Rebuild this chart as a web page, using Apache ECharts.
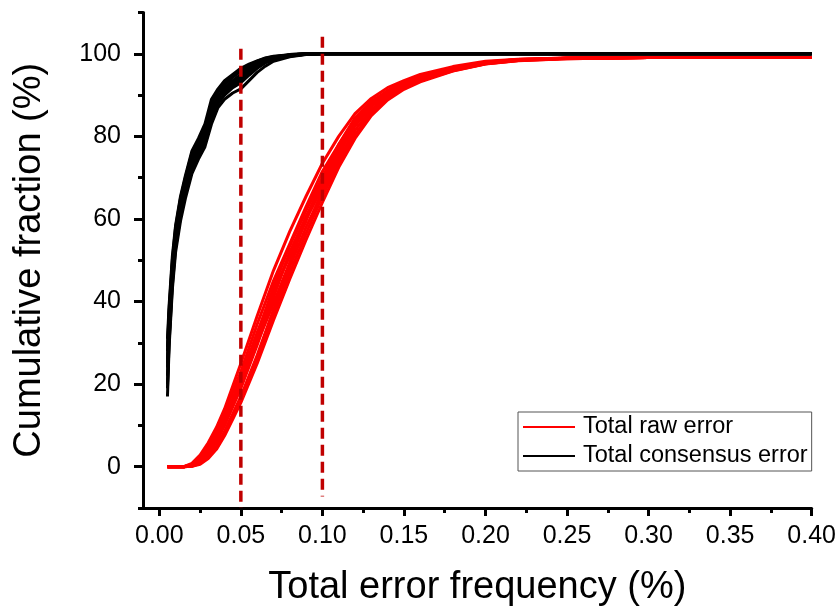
<!DOCTYPE html>
<html>
<head>
<meta charset="utf-8">
<script src="https://cdn.jsdelivr.net/npm/echarts@6/dist/echarts.min.js"></script>
<style>html,body{margin:0;padding:0;background:#fff}#chart{width:839px;height:612px}</style>
</head>
<body>
<div id="chart"></div>
<script>
// ---- tick values ----
const xMajorTicks = [0, 0.05, 0.10, 0.15, 0.20, 0.25, 0.30, 0.35, 0.40];
const xMinorTicks = [0.025, 0.075, 0.125, 0.175, 0.225, 0.275, 0.325, 0.375];
const yMajorTicks = [0, 20, 40, 60, 80, 100];
const yMinorTicks = [-10, 10, 30, 50, 70, 90, 110];

// ---- Total raw error (red) replicates ----
const rawX = [0.005,0.015,0.02,0.025,0.03,0.035,0.04,0.045,0.05,0.06,0.07,0.08,0.09,0.1,0.11,0.12,0.13,0.14,0.15,0.16,0.18,0.2,0.22,0.25,0.3,0.4];
const raw1 = [0,0,0.8,2.8,5.8,9.5,14,19.5,25,36.5,47.5,57,65.5,73.5,80,85.5,89.2,91.8,93.5,95,96.9,98.2,98.7,99,99.1,99.1];
const raw2 = [0,0,0.1,0.6,2,4.2,7.5,11.5,15.5,25,35.5,45.5,55,64,72.5,79.5,85,88.8,91.4,93.2,95.8,97.5,98.3,98.8,99.1,99.1];
const raw3 = [0,0,0.2,1.2,3,6,10,14.5,19,29.5,41,52,60.5,68,76,82.5,87.2,90.3,92.4,94,96.2,97.7,98.5,98.9,99.1,99.1];
const raw4 = [0,0,0.5,2,4.4,7.6,11.8,16.5,21.5,32.5,42.5,51,59.5,70,78,84.5,88.5,91,93,94.4,96.5,97.9,98.6,98.9,99.1,99.1];
const raw5 = [0,0,0.2,0.9,2.5,5,8.6,12.8,17,27,38,48.5,58,66.5,74.5,81.5,86.5,89.8,92,93.7,96,97.6,98.4,98.9,99.1,99.1];
const raw6 = [0,0,0.6,2.4,5,8.6,12.8,18,23,34.5,45,54,63,71.5,78,84,88,91,92.9,94.3,96.5,98,98.6,99,99.1,99.1];
const raw7 = [0,0,0.3,1.4,3.3,6.3,10.2,14.8,19.3,30,39.5,49.5,60,67.5,75.5,83,87.5,90.4,92.5,94,96.3,97.8,98.5,98.9,99.1,99.1];
const raw8 = [0,0,0.4,1.7,4,7,11,15.8,20.5,32,43.5,53.5,62,70,77.5,84,88,91,93,94.5,96.5,97.9,98.6,98.9,99.1,99.1];
const raw9 = [0,0,0.1,0.8,2.3,4.6,8,12.2,16.3,26,37,47,56.5,65.5,73.5,80.5,85.8,89.3,91.7,93.5,95.9,97.6,98.4,98.8,99.1,99.1];
const raw10 = [0,0,0.3,1.5,3.6,6.8,10.8,15.3,20,31,42,51.5,60.5,69,76.5,83,87.8,90.6,92.6,94.1,96.3,97.8,98.5,98.9,99.1,99.1];

// ---- Total consensus error (black) replicates ----
const consX = [0.005,0.006,0.008,0.01,0.013,0.016,0.02,0.024,0.028,0.032,0.036,0.04,0.045,0.05,0.055,0.06,0.065,0.07,0.08,0.09,0.1,0.4];
const cons1 = [17,29,43,52,59.5,65,71,74.5,77.5,83,87,89,90.5,91.5,93.5,95.5,97,98.2,99.3,99.8,100,100];
const cons2 = [22,34,47,55.5,62.5,68,74,77.5,80.5,86.5,89,91.8,93.5,95,96.4,97.6,98.5,99.1,99.7,100,100,100];
const cons3 = [26,36,48.5,56.5,63.5,68.5,74.5,77,80,85.5,90,90.8,92.5,94,95.8,97.2,98.3,99,99.6,99.9,100,100];
const cons4 = [31,39,51,58.5,65.5,70.5,76.5,79.5,83,89,91.5,93.5,95,96.5,97.5,98.3,99,99.4,99.8,100,100,100];
const cons5 = [24,33,45.5,54.5,61.5,66.5,72.5,76,79,84.5,88,90.5,92,93.5,95.2,96.8,98,98.8,99.5,99.9,100,100];
const cons6 = [28,37,49,57,64,69,75,78,81.5,87.5,89.2,92.5,94.3,95.8,96.9,97.9,98.7,99.2,99.7,100,100,100];
const cons7 = [20,31,45,54,61,66.5,72.5,76,79,85.5,89.8,91.2,92.8,94.3,95.9,97.2,98.3,99,99.6,99.9,100,100];
const cons8 = [19,30,44,53,60.5,66,72,75.5,78.5,84,88,90,91.8,93,94.8,96.5,97.8,98.6,99.4,99.9,100,100];
const cons9 = [25,35,47.5,56,63,68,74,77.5,80.5,86,89.5,91.5,93.2,94.8,96.3,97.6,98.5,99.1,99.7,100,100,100];
const cons10 = [29,38,50,58,65,70,76,79,82,88,90.8,92.8,94.5,96,97.2,98.2,98.9,99.3,99.8,100,100,100];

// ---- reference (dashed) lines: x position, top value, bottom value ----
const refX = [0.05, 0.10];
const refTop = [101.2, 104.1];
const refBottom = [-10, -7.2];

const RAW_NAME = 'Total raw error';
const CONS_NAME = 'Total consensus error';
const FONT = "'Liberation Sans', Arial, sans-serif";

function pairs(xs, ys) { return xs.map((x, i) => [x, ys[i]]); }

const series = [];
[raw1, raw2, raw3, raw4, raw5, raw6, raw7, raw8, raw9, raw10].forEach(r => {
  series.push({ type: 'line', name: RAW_NAME, data: pairs(rawX, r), showSymbol: false, symbol: 'none',
    color: '#ff0000', lineStyle: { color: '#ff0000', width: 3 }, z: 2 });
});
[cons1, cons2, cons3, cons4, cons5, cons6, cons7, cons8, cons9, cons10].forEach(r => {
  series.push({ type: 'line', name: CONS_NAME, data: pairs(consX, r), showSymbol: false, symbol: 'none',
    color: '#000000', lineStyle: { color: '#000000', width: 3 }, z: 3 });
});
refX.forEach((x, i) => {
  series.push({ type: 'line', name: 'ref' + i, data: [[x, refTop[i]], [x, refBottom[i]]], showSymbol: false, symbol: 'none',
    silent: true, color: '#c00000', lineStyle: { color: '#c00000', width: 3.5, type: [11, 6] }, z: 4 });
});

function tickAxis(min, max, pos, values, len) {
  return {
    type: 'value', min: min, max: max, position: pos,
    axisLine: { show: false, onZero: false },
    axisTick: { show: true, inside: false, length: len, customValues: values, lineStyle: { color: '#000', width: 3 } },
    axisLabel: { show: false },
    splitLine: { show: false }
  };
}

const option = {
  animation: false,
  backgroundColor: '#fff',
  textStyle: { fontFamily: FONT },
  grid: { left: 143, right: 26, top: 12.5, bottom: 101.5, containLabel: false },
  legend: {
    data: [RAW_NAME, CONS_NAME],
    orient: 'vertical',
    left: 518, top: 412,
    padding: [3, 4, 3, 5],
    itemGap: 5,
    itemWidth: 52, itemHeight: 2,
    icon: 'rect',
    borderColor: '#555', borderWidth: 1,
    textStyle: { fontSize: 23.5, lineHeight: 23, color: '#000', fontFamily: FONT, padding: [0, 0, 0, 3] }
  },
  xAxis: [
    {
      type: 'value', min: -0.01, max: 0.4, position: 'bottom',
      axisLine: { show: true, onZero: false, lineStyle: { color: '#000', width: 3 } },
      axisTick: { show: false },
      axisLabel: { show: true, customValues: xMajorTicks, margin: 16, fontSize: 25, color: '#000', fontFamily: FONT,
        formatter: v => v.toFixed(2) },
      splitLine: { show: false },
      name: 'Total error frequency (%)', nameLocation: 'middle', nameGap: 61,
      nameTextStyle: { fontSize: 38, color: '#000', fontFamily: FONT }
    },
    tickAxis(-0.01, 0.4, 'bottom', xMajorTicks, 8),
    tickAxis(-0.01, 0.4, 'bottom', xMinorTicks, 5)
  ],
  yAxis: [
    {
      type: 'value', min: -10, max: 110, position: 'left',
      axisLine: { show: true, onZero: false, lineStyle: { color: '#000', width: 3 } },
      axisTick: { show: false },
      axisLabel: { show: true, customValues: yMajorTicks, margin: 22, fontSize: 25, color: '#000', fontFamily: FONT },
      splitLine: { show: false },
      name: 'Cumulative fraction (%)', nameLocation: 'middle', nameGap: 94,
      nameTextStyle: { fontSize: 38, color: '#000', fontFamily: FONT }
    },
    tickAxis(-10, 110, 'left', yMajorTicks, 9),
    tickAxis(-10, 110, 'left', yMinorTicks, 5)
  ],
  series: series
};

const chart = echarts.init(document.getElementById('chart'), null, { renderer: 'canvas' });
chart.setOption(option);
</script>
</body>
</html>
